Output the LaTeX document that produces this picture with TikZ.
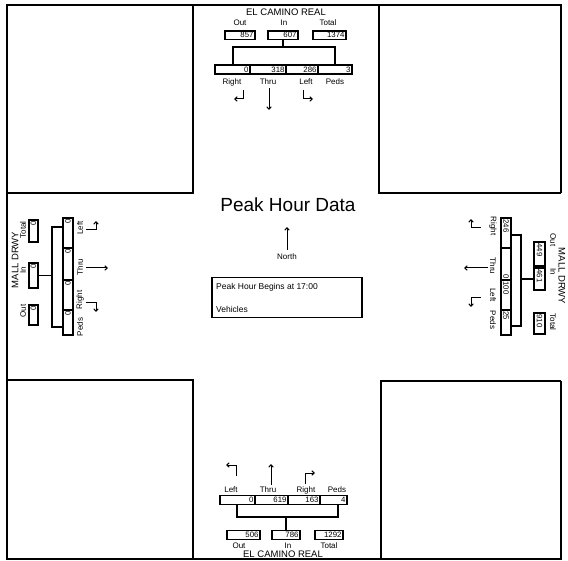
\documentclass[tikz,border=0pt]{standalone}
\usepackage{fontspec}
\setmainfont{Liberation Sans}
\usetikzlibrary{arrows.meta}
\begin{document}
\begin{tikzpicture}[x=1pt,y=-1pt,
  ln/.style={line width=1.1pt},
  fr/.style={line width=1.4pt},
  lbl/.style={font=\fontsize{8}{8.5}\selectfont, inner sep=0pt},
  street/.style={font=\fontsize{9.5}{10}\selectfont, inner sep=0pt},
  cellr/.style={draw, line width=1.1pt, inner xsep=1.5pt, inner ysep=0pt, minimum height=9pt, text width=#1, align=right, font=\fontsize{7.8}{8}\selectfont},
  celll/.style={cellr=#1, align=left},
  arr/.style={line width=1pt, -{Straight Barb[length=2.5pt,width=4.5pt]}},
]
\useasboundingbox (0,0) rectangle (568,561);

% ---------- frame and quadrants ----------
\draw[fr] (561,193) -- (561,5) -- (7,5) -- (7,559) -- (561,559) -- (561,381);
\draw[fr] (193,5) -- (193,193) -- (7,193);
\draw[fr] (379,5) -- (379,193) -- (561,193);
\draw[fr] (7,380) -- (193,380) -- (193,559);
\draw[fr] (381,559) -- (381,381) -- (561,381);

% ---------- north: El Camino Real ----------
\node[street] (tname) at (286,12) {EL CAMINO REAL};
\node[lbl] (tOutL) at (240,23) {Out};
\node[lbl] (tInL) at (284,23) {In};
\node[lbl] (tTotL) at (328,23) {Total};
\node[cellr=27pt, minimum height=8.5pt] (tOut) at (240,35.25) {857};
\node[cellr=27pt, minimum height=8.5pt] (tIn) at (283,35.25) {607};
\node[cellr=30pt, minimum height=8.5pt] (tTot) at (329.5,35.25) {1374};
\coordinate (tb) at (283,47);
\coordinate (tbl) at (233,47);
\coordinate (tbr) at (335,47);
\coordinate (tbl2) at (233,65);
\coordinate (tbr2) at (335,65);
\draw[ln] (tIn.south) -- (tb);
\draw[ln] (tbl2) -- (tbl) -- (tbr) -- (tbr2);
\node[cellr=32pt] (tR) at (232.5,69.5) {0};
\node[cellr=33pt] (tT) at (268,69.5) {318};
\node[cellr=29pt] (tL) at (302,69.5) {286};
\node[cellr=31pt] (tP) at (335,69.5) {3};
\node[lbl] (tRL) at (232,82) {Right};
\node[lbl] (tTL) at (268,82) {Thru};
\node[lbl] (tLL) at (306,82) {Left};
\node[lbl] (tPL) at (335,82) {Peds};
\coordinate (tra) at (243,90); \coordinate (trb) at (243,99); \coordinate (trc) at (234,99);
\draw[arr] (tra) -- (trb) -- (trc);
\coordinate (tta) at (269,88); \coordinate (ttb) at (269,110);
\draw[arr] (tta) -- (ttb);
\coordinate (tla) at (303,90); \coordinate (tlb) at (303,99); \coordinate (tlc) at (313,99);
\draw[arr] (tla) -- (tlb) -- (tlc);

% ---------- south: El Camino Real ----------
\coordinate (bla) at (236,476); \coordinate (blb) at (236,465); \coordinate (blc) at (226,465);
\draw[arr] (bla) -- (blb) -- (blc);
\coordinate (bta) at (271,485); \coordinate (btb) at (271,464);
\draw[arr] (bta) -- (btb);
\coordinate (bra) at (305,484); \coordinate (brb) at (305,473); \coordinate (brc) at (315,473);
\draw[arr] (bra) -- (brb) -- (brc);
\node[lbl] (bLL) at (231,490) {Left};
\node[lbl] (bTL) at (268,490) {Thru};
\node[lbl] (bRL) at (306,490) {Right};
\node[lbl] (bPL) at (337,490) {Peds};
\node[cellr=32pt] (bL) at (237.5,500) {0};
\node[cellr=30pt] (bT) at (271.5,500) {619};
\node[cellr=29pt] (bR) at (304,500) {163};
\node[cellr=24pt] (bP) at (333.5,500) {4};
\coordinate (bbl1) at (237,504.5);
\coordinate (bbl) at (237,517);
\coordinate (bbr1) at (338,504.5);
\coordinate (bbr) at (338,517);
\coordinate (bb) at (286,517);
\draw[ln] (bbl1) -- (bbl) -- (bbr) -- (bbr1);
\node[cellr=30pt, minimum height=8.5pt] (bOut) at (243.5,535) {506};
\node[cellr=25pt, minimum height=8.5pt] (bIn) at (286,535) {786};
\node[cellr=25pt, minimum height=8.5pt] (bTot) at (329,535) {1292};
\draw[ln] (bb) -- (bIn.north);
\node[lbl] (bOutL) at (239,545.5) {Out};
\node[lbl] (bInL) at (288,545.5) {In};
\node[lbl] (bTotL) at (329,545.5) {Total};
\node[street] (bname) at (283,554) {EL CAMINO REAL};

% ---------- west: Mall Drwy ----------
\node[street, rotate=90] (lname) at (15,260) {MALL DRWY};
\node[lbl, rotate=90] (lTotL) at (23,230) {Total};
\node[lbl, rotate=90] (lInL) at (23,270) {In};
\node[lbl, rotate=90] (lOutL) at (23,311) {Out};
\node[cellr=19pt, rotate=90] (lTot) at (33.5,231) {0};
\node[cellr=22pt, rotate=90] (lIn) at (33.5,275.5) {0};
\node[cellr=17pt, rotate=90] (lOut) at (33.5,315) {0};
\coordinate (lb) at (52,275.5);
\coordinate (lbt) at (52,227);
\coordinate (lbb) at (52,327);
\coordinate (lbt2) at (63,227);
\coordinate (lbb2) at (63,327);
\draw[ln] (lIn.south) -- (lb);
\draw[ln] (lbt2) -- (lbt) -- (lbb) -- (lbb2);
\node[cellr=27pt, rotate=90, minimum height=10pt] (lL) at (68,233) {0};
\node[cellr=29pt, rotate=90, minimum height=10pt] (lT) at (68,264) {0};
\node[cellr=27pt, rotate=90, minimum height=10pt] (lR) at (68,295) {0};
\node[cellr=22pt, rotate=90, minimum height=10pt] (lP) at (68,322.5) {0};
\node[lbl, rotate=90] (lLL) at (80,228) {Left};
\node[lbl, rotate=90] (lTL) at (80,267) {Thru};
\node[lbl, rotate=90] (lRL) at (80,300) {Right};
\node[lbl, rotate=90] (lPL) at (80,327) {Peds};
\coordinate (lla) at (86,230); \coordinate (llb) at (96,230); \coordinate (llc) at (96,221);
\draw[arr] (lla) -- (llb) -- (llc);
\coordinate (lta) at (86,268); \coordinate (ltb) at (108,268);
\draw[arr] (lta) -- (ltb);
\coordinate (lra) at (86,303); \coordinate (lrb) at (96,303); \coordinate (lrc) at (96,312);
\draw[arr] (lra) -- (lrb) -- (lrc);

% ---------- east: Mall Drwy ----------
\node[celll=27pt, rotate=-90, minimum height=10pt] (rR) at (506,233) {246};
\node[cellr=29pt, rotate=-90, minimum height=10pt] (rT) at (506,264) {0};
\node[celll=27pt, rotate=-90, minimum height=10pt] (rL) at (506,295) {100};
\node[celll=22pt, rotate=-90, minimum height=10pt] (rP) at (506,322.5) {25};
\node[lbl, rotate=-90] (rRL) at (493,226) {Right};
\node[lbl, rotate=-90] (rTL) at (493,266) {Thru};
\node[lbl, rotate=-90] (rLL) at (493,295) {Left};
\node[lbl, rotate=-90] (rPL) at (493,320) {Peds};
\coordinate (rra) at (481,228); \coordinate (rrb) at (471,228); \coordinate (rrc) at (471,219);
\draw[arr] (rra) -- (rrb) -- (rrc);
\coordinate (rta) at (488,268); \coordinate (rtb) at (464,268);
\draw[arr] (rta) -- (rtb);
\coordinate (rla) at (481,298); \coordinate (rlb) at (471,298); \coordinate (rlc) at (471,307);
\draw[arr] (rla) -- (rlb) -- (rlc);
\coordinate (rbt1) at (511,235);
\coordinate (rbt) at (521,235);
\coordinate (rbb1) at (511,326);
\coordinate (rbb) at (521,326);
\coordinate (rb) at (521,279);
\draw[ln] (rbt1) -- (rbt) -- (rbb) -- (rbb1);
\node[celll=21pt, rotate=-90, minimum height=11pt] (rOut) at (539.5,254) {449};
\node[celll=19pt, rotate=-90, minimum height=11pt] (rIn) at (539.5,279) {461};
\node[celll=18pt, rotate=-90, minimum height=11pt] (rTot) at (539.5,323.5) {910};
\draw[ln] (rb) -- (rIn.south);
\node[lbl, rotate=-90] (rOutL) at (553,240) {Out};
\node[lbl, rotate=-90] (rInL) at (553,272) {In};
\node[lbl, rotate=-90] (rTotL) at (553,322) {Total};
\node[street, rotate=-90] (rname) at (562,276) {MALL DRWY};

% ---------- centre ----------
\node[font=\fontsize{19}{20}\selectfont, inner sep=0pt] (title) at (288,205) {Peak Hour Data};
\node[lbl] (north) at (287,257) {North};
\coordinate (nbase) at (287,250);
\coordinate (ntip) at (287,227);
\draw[arr] (nbase) -- (ntip);
\node[draw, ln, minimum width=150pt, minimum height=40pt, inner sep=0pt] (info) at (287,297.5) {};
\node[font=\fontsize{8.5}{9}\selectfont, inner sep=0pt, anchor=west] (begins) at (216,287) {Peak Hour Begins at 17:00};
\node[font=\fontsize{8.5}{9}\selectfont, inner sep=0pt, anchor=west] (veh) at (216,309) {Vehicles};
\end{tikzpicture}
\end{document}
